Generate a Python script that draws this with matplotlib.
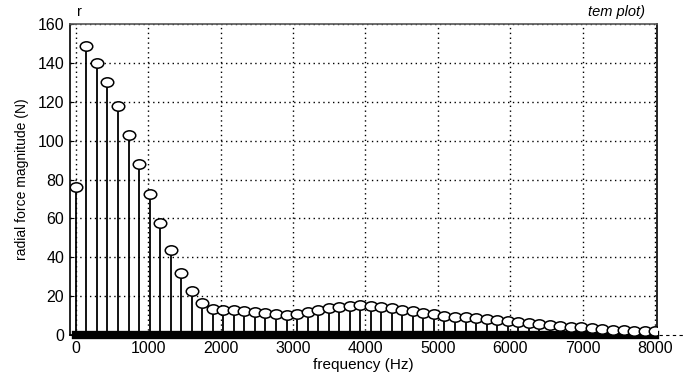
import numpy as np
import matplotlib.pyplot as plt
from matplotlib.path import Path
from matplotlib.transforms import Affine2D

plt.rcParams['font.family'] = ['Liberation Sans', 'DejaVu Sans']

# harmonic lines, 0 .. 8000 Hz in 56 equal steps
freq = np.linspace(0, 8000, 56)
force = [76, 149, 140, 130, 118, 103, 88, 72.5, 57.5, 44,
         32, 22.5, 16.5, 13.5, 13, 13, 12.5, 12, 11.5, 11,
         10.5, 11, 12, 13, 13.8, 14.5, 15, 15.3, 15, 14.5,
         13.8, 13, 12.2, 11.3, 10.6, 10, 9.5, 9.1, 8.6, 8.2,
         7.7, 7.3, 6.8, 6.3, 5.8, 5.3, 4.8, 4.3, 3.9, 3.5,
         3.1, 2.8, 2.5, 2.2, 2.0, 1.8]
xticks = np.arange(0, 8001, 1000)
yticks = np.arange(0, 161, 20)

# slightly flattened circle for the stem heads
ellipse = Path.unit_circle().transformed(Affine2D().scale(1.0, 0.75))

fig = plt.figure(figsize=(6.85, 3.72), dpi=100)
ax = fig.add_axes([0.102, 0.0995, 0.857, 0.8355])

markers, stems, base = ax.stem(freq, force, linefmt='k-', markerfmt='ko', basefmt='k-')
stems.set_linewidth(1.3)
stems.set_zorder(3)
markers.set_marker(ellipse)
markers.set_markerfacecolor('white')
markers.set_markeredgecolor('black')
markers.set_markersize(9)
markers.set_markeredgewidth(1.1)
markers.set_zorder(5)
base.set_linewidth(6)
base.set_zorder(4)
base.set_clip_on(False)

# baseline continues past the right edge
ax.plot([8060, 8380], [0, 0], color='black', lw=0.8, ls=(0, (3, 3)), clip_on=False)

ax.set_xlim(-83, 8025)
ax.set_ylim(0, 160)
ax.set_xticks(xticks)
ax.set_yticks(yticks)
ax.tick_params(direction='in', length=3, labelsize=11.5, colors='black', pad=4)
ax.grid(True, color='black', linestyle=(0, (1, 2.5)), linewidth=1.0)
for s in ax.spines.values():
    s.set_linewidth(1.2)
ax.spines['top'].set_color('#555555')

ax.set_xlabel('frequency (Hz)', fontsize=11, labelpad=2)
ax.set_ylabel('radial force magnitude (N)', fontsize=10, labelpad=6)

fig.text(0.112, 0.968, 'r', fontsize=10.5, ha='left', va='center')
fig.text(0.942, 0.968, 'tem plot)', fontsize=10.5, ha='right', va='center', style='italic')

fig.savefig('out.png', dpi=100)
